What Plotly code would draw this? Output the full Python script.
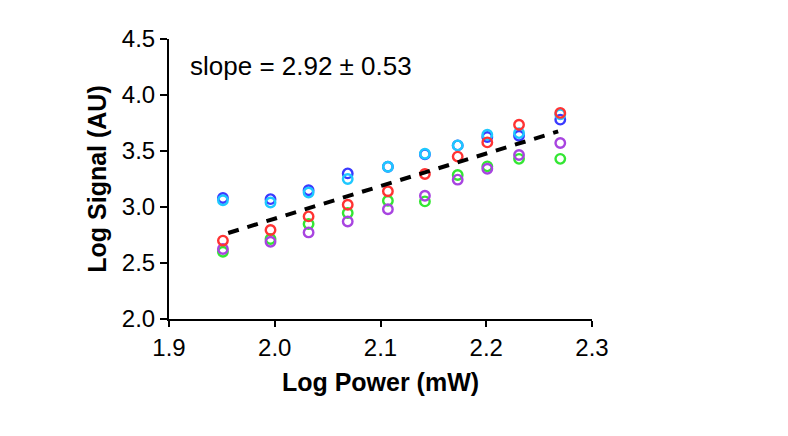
import plotly.graph_objects as go

log_power = [1.951, 1.996, 2.032, 2.069, 2.107, 2.142, 2.173, 2.201, 2.231, 2.270]

blue   = [3.08, 3.07, 3.15, 3.30, 3.36, 3.47, 3.55, 3.625, 3.636, 3.78]
cyan   = [3.06, 3.04, 3.13, 3.25, 3.36, 3.476, 3.55, 3.645, 3.66, 3.827]
red    = [2.70, 2.795, 2.916, 3.02, 3.14, 3.295, 3.45, 3.577, 3.735, 3.84]
green  = [2.60, 2.714, 2.848, 2.946, 3.056, 3.05, 3.286, 3.363, 3.43, 3.43]
purple = [2.625, 2.69, 2.773, 2.871, 2.98, 3.10, 3.244, 3.342, 3.464, 3.571]

fit_x = [1.956, 2.268]
fit_y = [2.768, 3.675]

series = [
    ("blue", blue, "#3a3aff"),
    ("cyan", cyan, "#1ec8ff"),
    ("green", green, "#33e633"),
    ("purple", purple, "#a844e0"),
    ("red", red, "#ff3333"),
]

fig = go.Figure()
for name, vals, col in series:
    fig.add_trace(go.Scatter(
        x=log_power, y=vals, mode="markers", name=name,
        marker=dict(symbol="circle-open", size=9.5, color=col, line=dict(width=2.4, color=col)),
        showlegend=False,
    ))

fig.add_trace(go.Scatter(
    x=fit_x, y=fit_y, mode="lines",
    line=dict(color="black", width=4, dash="11px,9px"),
    showlegend=False,
))

font_family = "Liberation Sans, Arial, sans-serif"
fig.update_layout(
    width=788, height=436,
    margin=dict(l=161, r=204, t=31, b=125, autoexpand=False),
    paper_bgcolor="white", plot_bgcolor="white",
    font=dict(family=font_family, size=24, color="black"),
    xaxis=dict(
        range=[1.9, 2.3], tickvals=[1.9, 2.0, 2.1, 2.2, 2.3], ticktext=["1.9", "2.0", "2.1", "2.2", "2.3"],
        showline=True, linecolor="black", linewidth=2, ticks="outside", ticklen=6, tickwidth=2,
        tickcolor="black", showgrid=False, zeroline=False,
        tickfont=dict(size=24),
        title=dict(text="<b>Log Power (mW)</b>", font=dict(size=25), standoff=14),
    ),
    yaxis=dict(
        range=[2.0, 4.5], tickvals=[2.0, 2.5, 3.0, 3.5, 4.0, 4.5], ticktext=["2.0", "2.5", "3.0", "3.5", "4.0", "4.5"],
        showline=True, linecolor="black", linewidth=2, ticks="outside", ticklen=7, tickwidth=2,
        tickcolor="black", showgrid=False, zeroline=False,
        tickfont=dict(size=24),
        title=dict(text="<b>Log Signal (AU)</b>", font=dict(size=25), standoff=8),
    ),
    annotations=[dict(
        text="slope = 2.92 ± 0.53", x=0.045, y=0.905, xref="paper", yref="paper",
        xanchor="left", yanchor="middle", showarrow=False, font=dict(size=26),
    )],
)

fig.write_html("out.html")
